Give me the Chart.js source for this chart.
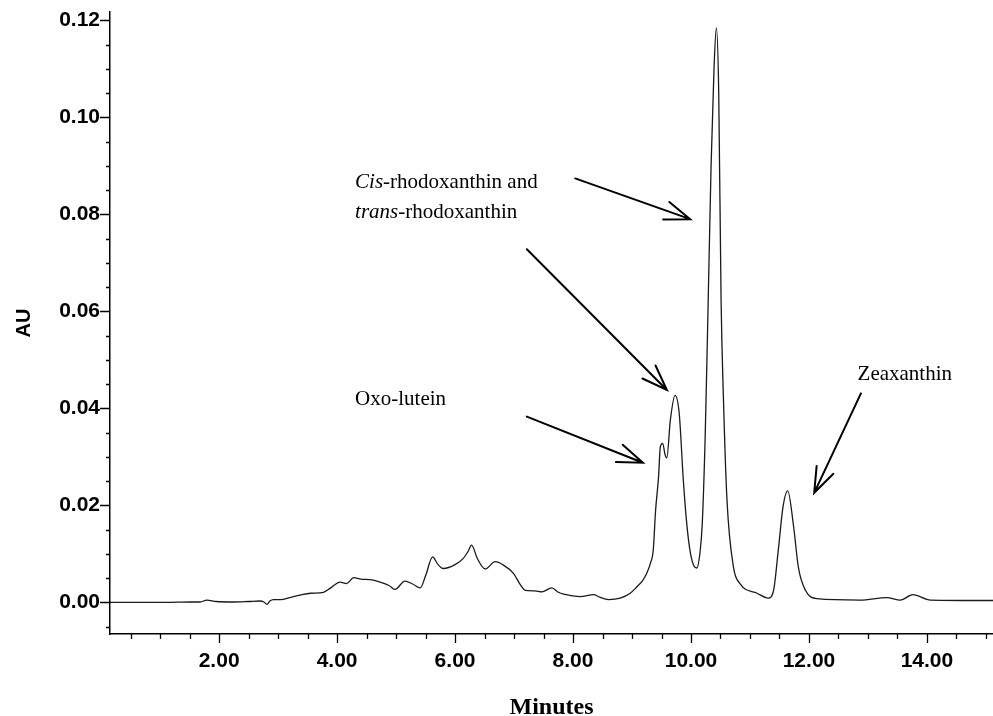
<!DOCTYPE html>
<html>
<head>
<meta charset="utf-8">
<script src="https://cdn.jsdelivr.net/npm/chart.js@4.4.0/dist/chart.umd.min.js"></script>
<style>
  html, body { margin: 0; padding: 0; background: #fff; }
</style>
</head>
<body>
<canvas id="chromatogram" width="993" height="716"></canvas>
<script>
// Retention time (minutes) and absorbance (AU)
var retentionTimes = [
  0.15, 0.6, 1.1, 1.5, 1.68, 1.79, 1.95, 2.24, 2.5, 2.69, 2.76, 2.81, 2.86, 2.92,
  3.04, 3.2, 3.37, 3.55, 3.77, 3.88, 4.05, 4.16, 4.28, 4.40, 4.56, 4.73, 4.88, 4.98,
  5.15, 5.28, 5.41, 5.50, 5.62, 5.70, 5.80, 6.00, 6.14, 6.22, 6.28, 6.38, 6.51, 6.68,
  6.82, 6.99, 7.10, 7.19, 7.35, 7.47, 7.64, 7.75, 7.84, 8.12, 8.35, 8.45, 8.60, 8.80,
  8.97, 9.08, 9.18, 9.25, 9.31, 9.36, 9.40, 9.45, 9.48, 9.52, 9.56, 9.59, 9.65, 9.73,
  9.80, 9.87, 9.93, 9.99, 10.05, 10.10, 10.15, 10.19, 10.24, 10.28, 10.34, 10.39, 10.43,
  10.47, 10.51, 10.55, 10.61, 10.72, 10.83, 11.12, 11.31, 11.40, 11.48, 11.56, 11.64,
  11.74, 11.82, 11.94, 12.13, 12.87, 13.32, 13.55, 13.76, 14.06, 15.12
];
var absorbance = [
  0.0000, 0.0000, 0.0000, 0.0001, 0.0001, 0.0005, 0.0002, 0.0001, 0.0002, 0.0003, 0.0001, -0.0004, 0.0003, 0.0006,
  0.0006, 0.0010, 0.0015, 0.0019, 0.0021, 0.0029, 0.0042, 0.0039, 0.0051, 0.0048, 0.0047, 0.0042, 0.0035, 0.0027,
  0.0044, 0.0038, 0.0030, 0.0055, 0.0094, 0.0080, 0.0070, 0.0078, 0.0091, 0.0105, 0.0118, 0.0090, 0.0069, 0.0084,
  0.0077, 0.0060, 0.0038, 0.0025, 0.0024, 0.0022, 0.0030, 0.0021, 0.0017, 0.0012, 0.0016, 0.0011, 0.0006, 0.0009,
  0.0019, 0.0032, 0.0045, 0.0060, 0.0080, 0.0108, 0.0190, 0.0259, 0.0321, 0.0328, 0.0305, 0.0298, 0.0376, 0.0427,
  0.0390, 0.0252, 0.0160, 0.0102, 0.0075, 0.0071, 0.0100, 0.0160, 0.0340, 0.0555, 0.0898, 0.1100, 0.1184,
  0.1050, 0.0623, 0.0420, 0.0211, 0.0073, 0.0039, 0.0019, 0.0009, 0.0025, 0.0108, 0.0197, 0.0230,
  0.0156, 0.0073, 0.0025, 0.0008, 0.0005, 0.0010, 0.0005, 0.0016, 0.0005, 0.0004
];

// Axis ticks
var xTickValues = [2, 4, 6, 8, 10, 12, 14];
var xTickLabels = ['2.00', '4.00', '6.00', '8.00', '10.00', '12.00', '14.00'];
var yTickValues = [0, 0.02, 0.04, 0.06, 0.08, 0.10, 0.12];
var yTickLabels = ['0.00', '0.02', '0.04', '0.06', '0.08', '0.10', '0.12'];

// Peak labels (anchored in data units: minutes, AU)
var peakLabels = [
  { at: [4.305, 0.0855], parts: [['Cis', true], ['-rhodoxanthin and', false]] },
  { at: [4.305, 0.0793], parts: [['trans', true], ['-rhodoxanthin', false]] },
  { at: [4.305, 0.0407], parts: [['Oxo-lutein', false]] },
  { at: [12.824, 0.0458], parts: [['Zeaxanthin', false]] }
];
var peakArrows = [
  { from: [8.036, 0.0874], to: [9.986, 0.0790] },
  { from: [7.217, 0.0728], to: [9.591, 0.0438] },
  { from: [7.217, 0.0383], to: [9.184, 0.0288] },
  { from: [12.881, 0.0431], to: [12.089, 0.0226] }
];

var points = retentionTimes.map(function (t, i) { return { x: t, y: absorbance[i] }; });

// major + minor tick marks, drawn through the scales
var tickMarks = {
  id: 'tickMarks',
  afterDraw: function (chart) {
    var ctx = chart.ctx, xs = chart.scales.x, ys = chart.scales.y;
    ctx.save();
    ctx.strokeStyle = '#000';
    ctx.lineWidth = 1.3;
    ctx.beginPath();
    for (var m = 0.5; m <= 15.0; m += 0.5) {
      var px = Math.round(xs.getPixelForValue(m)) + 0.5;
      var len = (m % 2 === 0) ? 9 : 5;
      ctx.moveTo(px, xs.top);
      ctx.lineTo(px, xs.top + len);
    }
    for (var k = -1; k <= 24; k++) {
      var v = k * 0.005;
      var py = Math.round(ys.getPixelForValue(v)) + 0.5;
      var l = (k % 4 === 0) ? 10 : 4;
      ctx.moveTo(ys.right - l, py);
      ctx.lineTo(ys.right, py);
    }
    ctx.stroke();
    ctx.restore();
  }
};

// text labels and open arrows
var annotations = {
  id: 'annotations',
  afterDraw: function (chart) {
    var ctx = chart.ctx, xs = chart.scales.x, ys = chart.scales.y;
    ctx.save();
    ctx.fillStyle = '#000';
    ctx.textBaseline = 'alphabetic';
    peakLabels.forEach(function (lab) {
      var x = xs.getPixelForValue(lab.at[0]);
      var y = ys.getPixelForValue(lab.at[1]);
      lab.parts.forEach(function (p) {
        ctx.font = (p[1] ? 'italic ' : '') + '21px "Liberation Serif", "Times New Roman", serif';
        ctx.fillText(p[0], x, y);
        x += ctx.measureText(p[0]).width;
      });
    });
    ctx.strokeStyle = '#000';
    ctx.lineWidth = 2;
    ctx.lineCap = 'round';
    peakArrows.forEach(function (a) {
      var x0 = xs.getPixelForValue(a.from[0]), y0 = ys.getPixelForValue(a.from[1]);
      var x1 = xs.getPixelForValue(a.to[0]), y1 = ys.getPixelForValue(a.to[1]);
      var ang = Math.atan2(y0 - y1, x0 - x1);
      var head = 27, spread = 20 * Math.PI / 180;
      ctx.beginPath();
      ctx.moveTo(x0, y0);
      ctx.lineTo(x1, y1);
      ctx.moveTo(x1 + head * Math.cos(ang - spread), y1 + head * Math.sin(ang - spread));
      ctx.lineTo(x1, y1);
      ctx.lineTo(x1 + head * Math.cos(ang + spread), y1 + head * Math.sin(ang + spread));
      ctx.stroke();
    });
    ctx.restore();
  }
};

var ctx = document.getElementById('chromatogram').getContext('2d');

var chromatogram = new Chart(ctx, {
  type: 'line',
  data: {
    datasets: [{
      data: points,
      borderColor: '#1a1a1a',
      borderWidth: 1.3,
      pointRadius: 0,
      fill: false,
      cubicInterpolationMode: 'monotone'
    }]
  },
  options: {
    responsive: false,
    animation: false,
    layout: { padding: { top: 12, right: 0, bottom: 0, left: 0 } },
    plugins: {
      legend: { display: false },
      tooltip: { enabled: false }
    },
    scales: {
      x: {
        type: 'linear',
        min: 0.15,
        max: 15.12,
        afterBuildTicks: function (scale) {
          scale.ticks = xTickValues.map(function (v) { return { value: v }; });
        },
        afterFit: function (scale) {
          scale.height = 82;
          scale.paddingLeft = 0;
          scale.paddingRight = 0;
        },
        grid: { display: false, drawTicks: true, tickLength: 9 },
        border: { display: true, color: '#000', width: 1.5 },
        ticks: {
          padding: 6,
          maxRotation: 0,
          autoSkip: false,
          color: '#000',
          font: { family: '"Liberation Sans", Arial, sans-serif', weight: 'bold', size: 21 },
          callback: function (value, index) { return xTickLabels[index]; }
        },
        title: {
          display: true,
          text: 'Minutes',
          color: '#000',
          font: { family: '"Liberation Serif", "Times New Roman", serif', weight: 'bold', size: 24, lineHeight: 0.7 },
          padding: { top: 0, bottom: 0 }
        }
      },
      y: {
        type: 'linear',
        min: -0.0065,
        max: 0.1217,
        afterBuildTicks: function (scale) {
          scale.ticks = yTickValues.map(function (v) { return { value: v }; });
        },
        afterFit: function (scale) {
          scale.width = 110;
          scale.paddingTop = 0;
          scale.paddingBottom = 0;
        },
        grid: { display: false, drawTicks: true, tickLength: 8 },
        border: { display: true, color: '#000', width: 1.5 },
        ticks: {
          padding: 2,
          autoSkip: false,
          color: '#000',
          font: { family: '"Liberation Sans", Arial, sans-serif', weight: 'bold', size: 21 },
          callback: function (value, index) { return yTickLabels[index]; }
        },
        title: {
          display: true,
          text: 'AU',
          color: '#000',
          font: { family: '"Liberation Sans", Arial, sans-serif', weight: 'bold', size: 20 },
          padding: { top: 12, bottom: 0 }
        }
      }
    }
  },
  plugins: [tickMarks, annotations]
});
</script>
</body>
</html>
